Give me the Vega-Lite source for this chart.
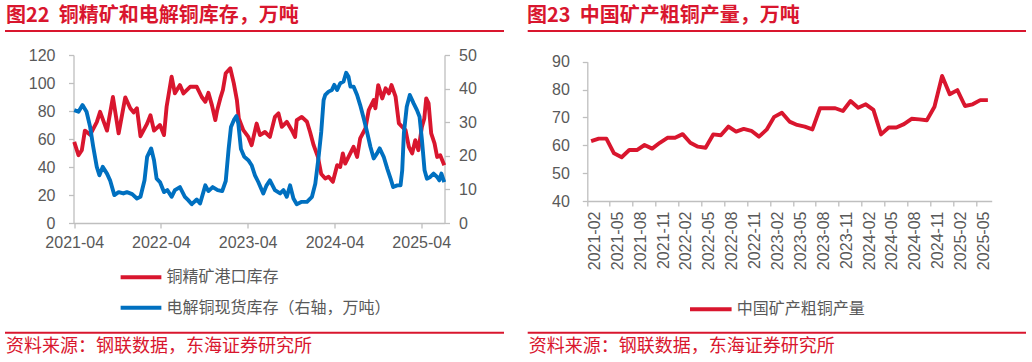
{
  "$schema": "https://vega.github.io/schema/vega-lite/v6.json",
  "autosize": {"type": "none"},
  "padding": {"left": 73.5, "top": 55, "right": 958.5, "bottom": 307},
  "background": "white",
  "bounds": "flush",
  "spacing": 142.8,
  "datasets": {
    "ore": [
      {"d":"2021-04-01","v":58},{"d":"2021-04-19","v":48.4},{"d":"2021-05-03","v":52},{"d":"2021-05-16","v":66},{"d":"2021-06-07","v":63},{"d":"2021-07-05","v":72},{"d":"2021-07-19","v":79.4},{"d":"2021-08-17","v":66},{"d":"2021-09-11","v":90},{"d":"2021-10-05","v":64},{"d":"2021-11-02","v":89.7},{"d":"2021-11-23","v":82},{"d":"2021-12-07","v":79},{"d":"2021-12-21","v":82},{"d":"2022-01-05","v":62},{"d":"2022-02-02","v":71},{"d":"2022-02-16","v":77},{"d":"2022-03-03","v":66},{"d":"2022-03-28","v":70},{"d":"2022-04-14","v":62.8},{"d":"2022-04-25","v":83},{"d":"2022-05-16","v":104.5},{"d":"2022-05-30","v":92.6},{"d":"2022-06-20","v":98.5},{"d":"2022-07-05","v":92.6},{"d":"2022-08-02","v":97.3},{"d":"2022-08-30","v":97.3},{"d":"2022-09-20","v":90},{"d":"2022-10-05","v":86.6},{"d":"2022-10-18","v":93},{"d":"2022-11-02","v":84},{"d":"2022-11-16","v":73.5},{"d":"2022-11-24","v":80.6},{"d":"2022-12-07","v":89},{"d":"2022-12-18","v":95},{"d":"2022-12-30","v":107},{"d":"2023-01-18","v":110.5},{"d":"2023-02-02","v":99.7},{"d":"2023-02-15","v":87.8},{"d":"2023-02-23","v":74.7},{"d":"2023-03-14","v":66.3},{"d":"2023-04-04","v":61.5},{"d":"2023-04-18","v":55.6},{"d":"2023-05-09","v":71},{"d":"2023-05-23","v":62.8},{"d":"2023-06-13","v":65},{"d":"2023-07-04","v":61.5},{"d":"2023-07-25","v":75.8},{"d":"2023-08-09","v":78.3},{"d":"2023-08-23","v":68.7},{"d":"2023-09-13","v":72.3},{"d":"2023-10-04","v":66.3},{"d":"2023-10-18","v":61.5},{"d":"2023-10-25","v":73.5},{"d":"2023-11-15","v":75.8},{"d":"2023-12-07","v":72.3},{"d":"2023-12-20","v":65},{"d":"2024-01-04","v":55.6},{"d":"2024-01-22","v":47.2},{"d":"2024-02-05","v":35},{"d":"2024-02-22","v":31.8},{"d":"2024-03-07","v":33},{"d":"2024-03-25","v":29.4},{"d":"2024-04-12","v":41.3},{"d":"2024-04-25","v":40},{"d":"2024-05-06","v":49.7},{"d":"2024-05-16","v":42.5},{"d":"2024-05-30","v":47.2},{"d":"2024-06-20","v":54.4},{"d":"2024-07-05","v":47.2},{"d":"2024-07-18","v":60.4},{"d":"2024-08-09","v":67.5},{"d":"2024-08-23","v":80.6},{"d":"2024-09-13","v":87.8},{"d":"2024-09-20","v":81.9},{"d":"2024-10-02","v":98.5},{"d":"2024-10-19","v":89},{"d":"2024-11-02","v":96.2},{"d":"2024-11-16","v":92.6},{"d":"2024-11-27","v":98.5},{"d":"2024-12-14","v":90.2},{"d":"2024-12-28","v":71.1},{"d":"2025-01-11","v":68.7},{"d":"2025-01-25","v":66.3},{"d":"2025-02-08","v":54.4},{"d":"2025-02-22","v":49.7},{"d":"2025-03-07","v":59.2},{"d":"2025-03-20","v":52},{"d":"2025-04-04","v":68.7},{"d":"2025-04-14","v":74.7},{"d":"2025-04-22","v":89},{"d":"2025-05-02","v":85.4},{"d":"2025-05-13","v":64},{"d":"2025-05-27","v":56.8},{"d":"2025-06-07","v":47.2},{"d":"2025-06-20","v":48.4},{"d":"2025-07-07","v":41.3}
    ],
    "cathode": [
      {"d":"2021-04-01","v":33.6},{"d":"2021-04-19","v":33.1},{"d":"2021-05-06","v":35.1},{"d":"2021-05-23","v":33.1},{"d":"2021-06-07","v":28.6},{"d":"2021-06-20","v":22.7},{"d":"2021-07-05","v":16.7},{"d":"2021-07-16","v":14.2},{"d":"2021-07-30","v":16.7},{"d":"2021-08-17","v":14.7},{"d":"2021-08-30","v":12.7},{"d":"2021-09-17","v":8.3},{"d":"2021-10-05","v":9.2},{"d":"2021-10-25","v":8.8},{"d":"2021-11-09","v":9.2},{"d":"2021-12-01","v":8.6},{"d":"2021-12-21","v":7.3},{"d":"2022-01-05","v":7.8},{"d":"2022-01-22","v":12.7},{"d":"2022-02-02","v":19.7},{"d":"2022-02-19","v":22.2},{"d":"2022-03-03","v":18.7},{"d":"2022-03-14","v":13.2},{"d":"2022-03-28","v":12.2},{"d":"2022-04-14","v":9.2},{"d":"2022-04-28","v":9.8},{"d":"2022-05-16","v":7.8},{"d":"2022-05-30","v":9.8},{"d":"2022-06-20","v":10.7},{"d":"2022-07-11","v":7.8},{"d":"2022-07-25","v":6.8},{"d":"2022-08-09","v":5.6},{"d":"2022-08-30","v":7},{"d":"2022-09-13","v":5.8},{"d":"2022-10-05","v":11.2},{"d":"2022-10-18","v":9.5},{"d":"2022-11-05","v":10.7},{"d":"2022-11-26","v":9.8},{"d":"2022-12-15","v":9.5},{"d":"2022-12-30","v":12.5},{"d":"2023-01-11","v":22},{"d":"2023-01-21","v":28.6},{"d":"2023-02-02","v":30.6},{"d":"2023-02-13","v":31.8},{"d":"2023-02-21","v":29.6},{"d":"2023-03-04","v":22},{"d":"2023-03-18","v":19.7},{"d":"2023-04-04","v":18.7},{"d":"2023-04-18","v":17.2},{"d":"2023-05-02","v":14.2},{"d":"2023-05-16","v":12.2},{"d":"2023-06-06","v":8.8},{"d":"2023-06-20","v":11.2},{"d":"2023-07-04","v":12.7},{"d":"2023-07-25","v":9.8},{"d":"2023-08-16","v":8.8},{"d":"2023-08-30","v":9.8},{"d":"2023-09-13","v":7.8},{"d":"2023-09-27","v":11.2},{"d":"2023-10-11","v":7.3},{"d":"2023-10-25","v":5.6},{"d":"2023-11-15","v":6.3},{"d":"2023-12-07","v":6.3},{"d":"2023-12-28","v":7.8},{"d":"2024-01-11","v":11.7},{"d":"2024-01-25","v":19.7},{"d":"2024-02-05","v":27.1},{"d":"2024-02-15","v":36.6},{"d":"2024-02-22","v":38.1},{"d":"2024-03-07","v":39.1},{"d":"2024-03-21","v":39.6},{"d":"2024-03-31","v":41.1},{"d":"2024-04-12","v":39.6},{"d":"2024-04-25","v":41.6},{"d":"2024-05-09","v":42.1},{"d":"2024-05-20","v":44.7},{"d":"2024-05-30","v":43.5},{"d":"2024-06-07","v":40.6},{"d":"2024-06-20","v":40.6},{"d":"2024-07-05","v":38.1},{"d":"2024-07-18","v":35.1},{"d":"2024-08-02","v":31.1},{"d":"2024-08-16","v":27.1},{"d":"2024-08-30","v":22.7},{"d":"2024-09-13","v":19.2},{"d":"2024-09-27","v":20.7},{"d":"2024-10-08","v":22.2},{"d":"2024-10-25","v":19.7},{"d":"2024-11-09","v":16.2},{"d":"2024-11-23","v":13.2},{"d":"2024-12-04","v":10.7},{"d":"2024-12-21","v":11.2},{"d":"2025-01-04","v":11.2},{"d":"2025-01-11","v":15.7},{"d":"2025-01-18","v":26.7},{"d":"2025-01-30","v":34.6},{"d":"2025-02-12","v":38.1},{"d":"2025-02-28","v":35.6},{"d":"2025-03-14","v":33.6},{"d":"2025-03-25","v":31.6},{"d":"2025-04-04","v":24.7},{"d":"2025-04-15","v":15.7},{"d":"2025-04-25","v":13.2},{"d":"2025-05-09","v":13.7},{"d":"2025-05-23","v":14.7},{"d":"2025-06-07","v":13.7},{"d":"2025-06-16","v":12.7},{"d":"2025-06-25","v":14.7},{"d":"2025-07-07","v":12.2}
    ],
    "output": [
      {"m":"2021-02","v":61.5},{"m":"2021-03","v":62.4},{"m":"2021-04","v":62.4},{"m":"2021-05","v":57.1},{"m":"2021-06","v":55.7},{"m":"2021-07","v":58.3},{"m":"2021-08","v":58.3},{"m":"2021-09","v":60.1},{"m":"2021-10","v":58.8},{"m":"2021-11","v":60.9},{"m":"2021-12","v":62.7},{"m":"2022-01","v":62.7},{"m":"2022-02","v":64.0},{"m":"2022-03","v":60.9},{"m":"2022-04","v":59.5},{"m":"2022-05","v":59.1},{"m":"2022-06","v":63.9},{"m":"2022-07","v":63.6},{"m":"2022-08","v":66.7},{"m":"2022-09","v":64.9},{"m":"2022-10","v":65.9},{"m":"2022-11","v":65.2},{"m":"2022-12","v":63.1},{"m":"2023-01","v":65.6},{"m":"2023-02","v":70.2},{"m":"2023-03","v":71.7},{"m":"2023-04","v":68.5},{"m":"2023-05","v":67.3},{"m":"2023-06","v":66.7},{"m":"2023-07","v":65.7},{"m":"2023-08","v":73.3},{"m":"2023-09","v":73.3},{"m":"2023-10","v":73.3},{"m":"2023-11","v":72.3},{"m":"2023-12","v":75.9},{"m":"2024-01","v":73.5},{"m":"2024-02","v":74.7},{"m":"2024-03","v":72.7},{"m":"2024-04","v":63.9},{"m":"2024-05","v":66.4},{"m":"2024-06","v":66.4},{"m":"2024-07","v":67.6},{"m":"2024-08","v":69.5},{"m":"2024-09","v":69.3},{"m":"2024-10","v":69.0},{"m":"2024-11","v":73.8},{"m":"2024-12","v":84.9},{"m":"2025-01","v":78.3},{"m":"2025-02","v":79.8},{"m":"2025-03","v":74.1},{"m":"2025-04","v":74.7},{"m":"2025-05","v":76.2},{"m":"2025-06","v":76.2}
    ]
  },
  "hconcat": [
    {
      "width": 371,
      "height": 168,
      "layer": [
        {
          "data": {"name": "ore"},
          "mark": {"type": "line", "strokeWidth": 3.9, "strokeJoin": "round"},
          "encoding": {
            "x": {"field": "d", "type": "temporal",
              "scale": {"type": "utc", "domain": [{"year": 2021, "month": 3, "date": 29, "utc": true}, {"year": 2025, "month": 7, "date": 8, "utc": true}]},
              "axis": {"title": null, "format": "%Y-%m", "labelPadding": 6, "labelFlush": false, "labelOverlap": false,
                "values": [{"year": 2021, "month": 4, "date": 1, "utc": true}, {"year": 2022, "month": 4, "date": 1, "utc": true}, {"year": 2023, "month": 4, "date": 1, "utc": true}, {"year": 2024, "month": 4, "date": 1, "utc": true}, {"year": 2025, "month": 4, "date": 1, "utc": true}]}},
            "y": {"field": "v", "type": "quantitative", "scale": {"domain": [0, 120], "nice": false},
              "axis": {"orient": "left", "title": null, "values": [0, 20, 40, 60, 80, 100, 120], "labelPadding": 13.5}},
            "color": {"datum": "铜精矿港口库存", "type": "nominal",
              "scale": {"domain": ["铜精矿港口库存", "电解铜现货库存（右轴，万吨）"], "range": ["#D9162E", "#0070C0"]},
              "legend": {"title": null, "orient": "none", "legendX": 45, "legendY": 212.3, "direction": "vertical", "padding": 0,
                "symbolType": "stroke", "symbolSize": 1660, "symbolStrokeWidth": 4, "clipHeight": 20, "rowPadding": 10.4, "labelOffset": 3,
                "labelFont": "Noto Sans CJK SC", "labelFontSize": 16, "labelColor": "#595959", "labelLimit": 400}}
          }
        },
        {
          "data": {"name": "cathode"},
          "mark": {"type": "line", "strokeWidth": 3.9, "strokeJoin": "round"},
          "encoding": {
            "x": {"field": "d", "type": "temporal"},
            "y": {"field": "v", "type": "quantitative", "scale": {"domain": [0, 50], "nice": false},
              "axis": {"orient": "right", "title": null, "values": [0, 10, 20, 30, 40, 50], "labelPadding": 9}},
            "color": {"datum": "电解铜现货库存（右轴，万吨）", "type": "nominal"}
          }
        },
        {
          "data": {"values": [{}]},
          "mark": {"type": "text", "text": "图22\u00a0\u00a0铜精矿和电解铜库存，万吨", "align": "left", "baseline": "middle", "font": "Noto Sans CJK SC", "fontSize": 20, "fontWeight": "bold", "color": "#D9162E"},
          "encoding": {"x": {"value": -67.5}, "y": {"value": -39.5}}
        },
        {
          "data": {"values": [{}]},
          "mark": {"type": "rule", "color": "#D9162E", "strokeWidth": 2},
          "encoding": {"x": {"value": -68.5}, "x2": {"value": 430.5}, "y": {"value": -24}}
        },
        {
          "data": {"values": [{}]},
          "mark": {"type": "rule", "color": "#D9162E", "strokeWidth": 2},
          "encoding": {"x": {"value": -68.5}, "x2": {"value": 430.5}, "y": {"value": 277.7}}
        },
        {
          "data": {"values": [{}]},
          "mark": {"type": "text", "text": "资料来源：钢联数据，东海证券研究所", "align": "left", "baseline": "middle", "font": "Noto Sans CJK SC", "fontSize": 18, "color": "#D9162E"},
          "encoding": {"x": {"value": -67.5}, "y": {"value": 291.5}}
        }
      ],
      "resolve": {"scale": {"y": "independent"}}
    },
    {
      "width": 404.4,
      "height": 146,
      "layer": [
        {
          "data": {"name": "output"},
          "mark": {"type": "line", "strokeWidth": 3.9, "strokeJoin": "round"},
          "encoding": {
            "x": {"field": "m", "type": "ordinal", "sort": null,
              "scale": {"type": "band", "paddingInner": 0, "paddingOuter": 0},
              "axis": {"title": null, "labelAngle": -90, "bandPosition": 0, "labelOffset": 3.8, "labelPadding": 5,
                "values": ["2021-02","2021-05","2021-08","2021-11","2022-02","2022-05","2022-08","2022-11","2023-02","2023-05","2023-08","2023-11","2024-02","2024-05","2024-08","2024-11","2025-02","2025-05"]}},
            "y": {"field": "v", "type": "quantitative", "scale": {"domain": [40, 90], "nice": false, "zero": false, "range": [146, 6.7]},
              "axis": {"title": null, "values": [40, 50, 60, 70, 80, 90], "labelPadding": 13}},
            "color": {"datum": "中国矿产粗铜产量", "type": "nominal",
              "scale": {"range": ["#D9162E"]},
              "legend": {"title": null, "orient": "none", "legendX": 100.5, "legendY": 244.3, "padding": 0,
                "symbolType": "stroke", "symbolSize": 1730, "symbolStrokeWidth": 4, "clipHeight": 20, "labelOffset": 3,
                "labelFont": "Noto Sans CJK SC", "labelFontSize": 16, "labelColor": "#595959", "labelLimit": 400}}
          }
        },
        {
          "data": {"values": [{}]},
          "mark": {"type": "text", "text": "图23\u00a0\u00a0中国矿产粗铜产量，万吨", "align": "left", "baseline": "middle", "font": "Noto Sans CJK SC", "fontSize": 20, "fontWeight": "bold", "color": "#D9162E"},
          "encoding": {"x": {"value": -60.3}, "y": {"value": -39.5}}
        },
        {
          "data": {"values": [{}]},
          "mark": {"type": "rule", "color": "#D9162E", "strokeWidth": 2},
          "encoding": {"x": {"value": -59.6}, "x2": {"value": 438.7}, "y": {"value": -24}}
        },
        {
          "data": {"values": [{}]},
          "mark": {"type": "rule", "color": "#D9162E", "strokeWidth": 2},
          "encoding": {"x": {"value": -59.6}, "x2": {"value": 438.7}, "y": {"value": 277.7}}
        },
        {
          "data": {"values": [{}]},
          "mark": {"type": "text", "text": "资料来源：钢联数据，东海证券研究所", "align": "left", "baseline": "middle", "font": "Noto Sans CJK SC", "fontSize": 18, "color": "#D9162E"},
          "encoding": {"x": {"value": -58.6}, "y": {"value": 291.5}}
        }
      ]
    }
  ],
  "resolve": {"scale": {"color": "independent"}, "legend": {"color": "independent"}},
  "config": {
    "view": {"stroke": null},
    "axis": {"domainColor": "#BFBFBF", "tickColor": "#BFBFBF", "domainWidth": 1.3, "tickWidth": 1.3, "tickSize": 5, "labelColor": "#595959", "labelFont": "Liberation Sans", "labelFontSize": 16, "grid": false}
  }
}
